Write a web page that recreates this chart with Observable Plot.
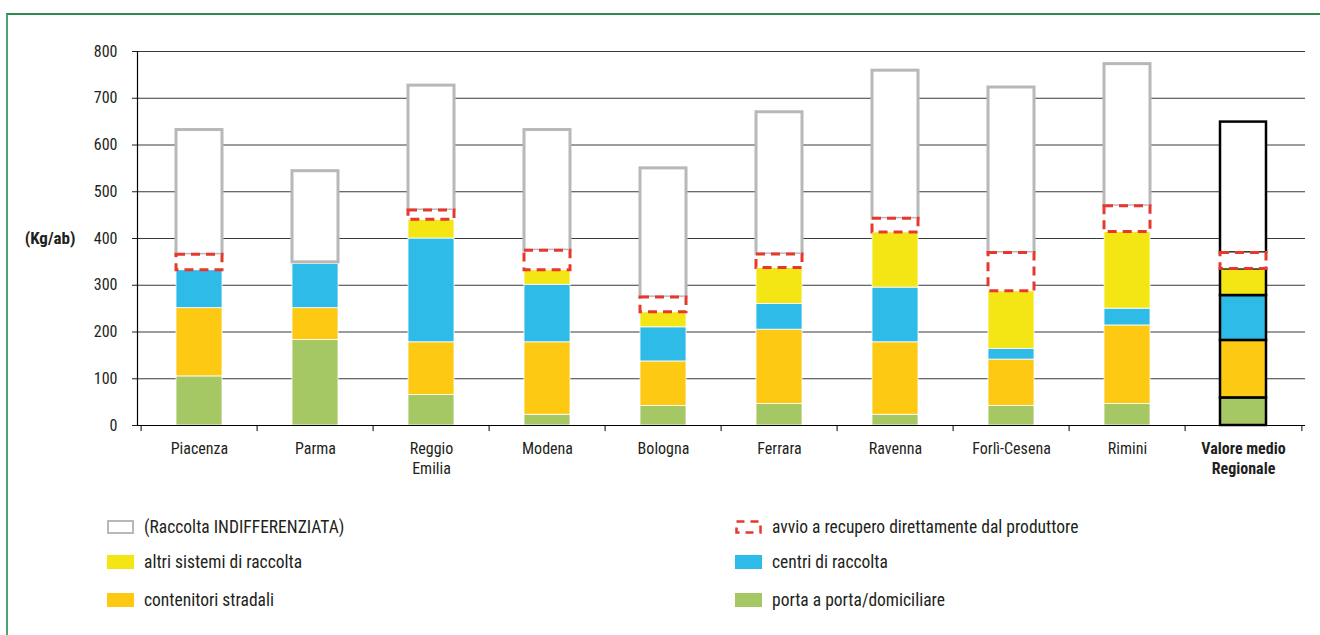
<!DOCTYPE html>
<html>
<head>
<meta charset="utf-8">
<script src="https://cdn.jsdelivr.net/npm/d3@7"></script>
<script src="https://cdn.jsdelivr.net/npm/@observablehq/plot@0.6"></script>
<style>
  html, body { margin: 0; padding: 0; background: #fff; }
  body { width: 1320px; height: 635px; overflow: hidden; position: relative;
         font-family: "Liberation Sans Narrow", "Roboto Condensed", "DejaVu Sans Condensed", "Open Sans", sans-serif; color: #231f20; }
  #frame { position: absolute; left: 6px; top: 13px; width: 1330px; height: 640px;
           border-top: 2px solid #2f8a50; border-left: 2px solid #4aa56a; pointer-events: none; }
  #chart { position: absolute; left: 0; top: 0; }
  .leg { position: absolute; display: flex; align-items: center; font-size: 17.5px; line-height: 20px; }
  .leg svg { margin-right: 10px; flex: none; }
</style>
</head>
<body>
<div id="chart"></div>
<div id="legend"></div>
<div id="frame"></div>
<script>
// ---- data ----
const categories = ["Piacenza", "Parma", "Reggio\nEmilia", "Modena", "Bologna", "Ferrara", "Ravenna", "Forlì-Cesena", "Rimini", "Valore medio\nRegionale"];
const portaAPorta   = [105, 183,  65,  23,  42,  46,  23,  42,  46,  59];
const contenitori   = [146,  68, 113, 155,  95, 159, 155,  99, 168, 123];
const centri        = [ 81,  95, 222, 123,  73,  55, 117,  23,  36,  96];
const altriSistemi  = [  0,   3,  40,  31,  32,  77, 118, 123, 164,  57];
const avvioRecupero = [ 33,   0,  20,  42,  32,  29,  29,  82,  55,  34];
const indifferenziata = [267, 195, 267, 258, 276, 304, 317, 354, 304, 280];
const yTicks = [0, 100, 200, 300, 400, 500, 600, 700, 800];
const seriesNames = ["porta a porta/domiciliare", "contenitori stradali", "centri di raccolta", "altri sistemi di raccolta", "avvio a recupero direttamente dal produttore", "(Raccolta INDIFFERENZIATA)"];

// ---- build stacked rows ----
const seriesDefs = [
  {key: "porta", name: seriesNames[0], values: portaAPorta, color: "#a6c864"},
  {key: "stradali", name: seriesNames[1], values: contenitori, color: "#fdc913"},
  {key: "centri", name: seriesNames[2], values: centri, color: "#2ebbe8"},
  {key: "altri", name: seriesNames[3], values: altriSistemi, color: "#f4e515"},
  {key: "avvio", name: seriesNames[4], values: avvioRecupero, color: "#e8382d"},
  {key: "indiff", name: seriesNames[5], values: indifferenziata, color: "#b8b8b8"}
];
const rows = [];
categories.forEach((c, i) => {
  let cum = 0;
  for (const s of seriesDefs) {
    const v = s.values[i];
    rows.push({cat: c, key: s.key, value: v, y1: cum, y2: cum + v, color: s.color, avg: i === categories.length - 1});
    cum += v;
  }
});
const filledKeys = ["porta", "stradali", "centri", "altri"];
const filled = rows.filter(d => filledKeys.includes(d.key) && d.value > 0);
const avvio = rows.filter(d => d.key === "avvio" && d.value > 0);
const indiff = rows.filter(d => d.key === "indiff");

const inset = 35;
const fontFam = '"Liberation Sans Narrow", "Roboto Condensed", "DejaVu Sans Condensed", "Open Sans", sans-serif';

const plot = Plot.plot({
  width: 1320,
  height: 500,
  marginLeft: 137,
  marginRight: 15,
  marginTop: 51,
  marginBottom: 75,
  style: {background: "transparent", fontFamily: fontFam, fontSize: "16px", color: "#231f20"},
  x: {type: "band", domain: categories, padding: 0},
  y: {domain: [0, 800]},
  marks: [
    Plot.ruleY(yTicks.filter(t => t > 0), {stroke: "#3a3a3a", strokeWidth: 1}),
    // regular bars
    Plot.barY(filled.filter(d => !d.avg), {x: "cat", y1: "y1", y2: "y2", fill: d => d.color, stroke: "#ffffff", strokeWidth: 0.8, insetLeft: inset, insetRight: inset}),
    Plot.barY(indiff.filter(d => !d.avg), {x: "cat", y1: "y1", y2: "y2", fill: "#ffffff", stroke: "#b8b8b8", strokeWidth: 3, insetLeft: inset, insetRight: inset}),
    Plot.barY(avvio.filter(d => !d.avg), {x: "cat", y1: "y1", y2: "y2", fill: "#ffffff", stroke: "#e8382d", strokeWidth: 3, strokeDasharray: "9,6", insetLeft: inset, insetRight: inset}),
    // regional average bar
    Plot.barY(filled.filter(d => d.avg), {x: "cat", y1: "y1", y2: "y2", fill: d => d.color, stroke: "#000000", strokeWidth: 2.5, insetLeft: inset, insetRight: inset}),
    Plot.barY(indiff.filter(d => d.avg), {x: "cat", y1: "y1", y2: "y2", fill: "#ffffff", stroke: "#000000", strokeWidth: 2.5, insetLeft: inset, insetRight: inset}),
    Plot.barY(avvio.filter(d => d.avg), {x: "cat", y1: "y1", y2: "y2", fill: "#ffffff", stroke: "#e8382d", strokeWidth: 3, strokeDasharray: "9,6", insetLeft: inset, insetRight: inset}),
    // axes lines
    Plot.frame({anchor: "left", stroke: "#000", strokeWidth: 1.2}),
    Plot.ruleY([0], {stroke: "#000", strokeWidth: 1.2}),
    // x boundary ticks
    Plot.ruleX(categories, {x: d => d, y1: 0, y2: -13, dx: -58.4, stroke: "#000"}),
    Plot.ruleX(categories.slice(-1), {x: d => d, y1: 0, y2: -13, dx: 58.4, stroke: "#000"}),
    Plot.axisY({ticks: yTicks, tickSize: 5, tickPadding: 15, tickFormat: d => d, label: null, fontSize: 16}),
    Plot.axisX({ticks: categories.slice(0, -1), tickSize: 0, tickPadding: 14, label: null, lineHeight: 1.25, fontSize: 16}),
    Plot.axisX({ticks: categories.slice(-1), tickSize: 0, tickPadding: 14, label: null, lineHeight: 1.25, fontSize: 16, fontWeight: "bold"}),
    Plot.text(["(Kg/ab)"], {frameAnchor: "left", dx: -62, textAnchor: "end", fontWeight: "bold", fontSize: 17})
  ]
});
document.getElementById("chart").appendChild(plot);

// ---- legend ----
const legendItems = [
  {name: seriesNames[5], type: "outline", color: "#b8b8b8", left: 107, top: 520},
  {name: seriesNames[3], type: "fill", color: "#f4e515", left: 107, top: 555},
  {name: seriesNames[1], type: "fill", color: "#fdc913", left: 107, top: 593},
  {name: seriesNames[4], type: "dash", color: "#e8382d", left: 735, top: 520},
  {name: seriesNames[2], type: "fill", color: "#2ebbe8", left: 735, top: 555},
  {name: seriesNames[0], type: "fill", color: "#a6c864", left: 735, top: 593}
];
const legend = document.getElementById("legend");
for (const it of legendItems) {
  const div = document.createElement("div");
  div.className = "leg";
  div.style.left = it.left + "px";
  div.style.top = (it.top - 3) + "px";
  let sw;
  if (it.type === "fill") sw = `<svg width="27" height="14"><rect x="0" y="0" width="27" height="14" fill="${it.color}"/></svg>`;
  else if (it.type === "outline") sw = `<svg width="27" height="14"><rect x="1" y="1" width="25" height="12" fill="#fff" stroke="${it.color}" stroke-width="2"/></svg>`;
  else sw = `<svg width="27" height="14"><rect x="1.5" y="1.5" width="24" height="11" fill="#fff" stroke="${it.color}" stroke-width="2.5" stroke-dasharray="8,6"/></svg>`;
  div.innerHTML = sw + `<span>${it.name}</span>`;
  legend.appendChild(div);
}
</script>
</body>
</html>
